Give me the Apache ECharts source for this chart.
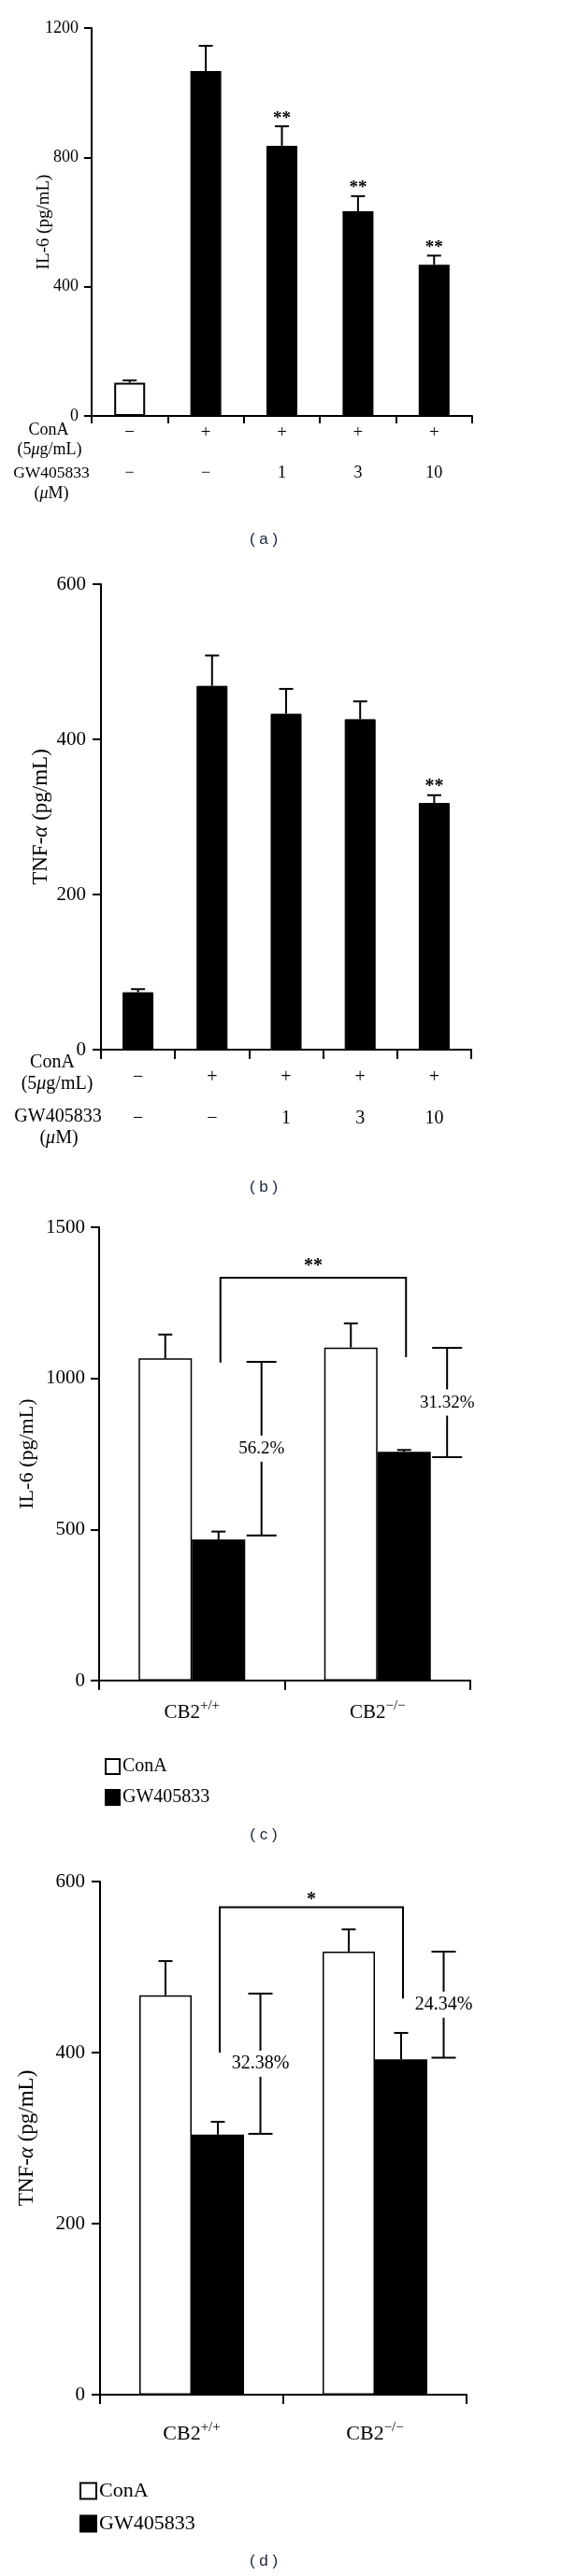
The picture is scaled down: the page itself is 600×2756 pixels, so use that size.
<!DOCTYPE html>
<html><head><meta charset="utf-8">
<script src="https://cdn.jsdelivr.net/npm/echarts@6/dist/echarts.min.js"></script>
<style>html,body{margin:0;padding:0;background:#fff}#c{width:600px;height:2756px}</style>
</head><body><div id="c"></div>
<script>
// ---------- Panel (a): IL-6 vs GW405833 dose ----------
const aConA = ['−', '+', '+', '+', '+'];
const aGW = ['−', '−', '1', '3', '10'];
const aIL6 = [103, 1067, 836, 633, 468];
const aIL6Err = [7, 78, 60, 47, 28];
const aSig = ['', '', '**', '**', '**'];
const aYTicks = [0, 400, 800, 1200];
// ---------- Panel (b): TNF-α vs GW405833 dose ----------
const bConA = ['−', '+', '+', '+', '+'];
const bGW = ['−', '−', '1', '3', '10'];
const bTNF = [74, 469, 433, 426, 318];
const bTNFErr = [4, 39, 32, 23, 10];
const bSig = ['', '', '', '', '**'];
const bYTicks = [0, 200, 400, 600];
// ---------- Panel (c): IL-6, CB2 genotypes ----------
const genotypes = ['CB2+/+', 'CB2−/−'];
const cConA = [1066, 1102];
const cConAErr = [79, 80];
const cGW = [467, 757];
const cGWErr = [26, 6];
const cBracket = [1333, 1052, 1070];   // top, left foot, right foot
const cBracketSig = '**';
const cInhibTop = [1055, 1101];
const cInhibBottom = [480, 739];
const cInhibLabel = ['56.2%', '31.32%'];
const cYTicks = [0, 500, 1000, 1500];
// ---------- Panel (d): TNF-α, CB2 genotypes ----------
const dConA = [467, 518];
const dConAErr = [40, 26];
const dGW = [304, 392];
const dGWErr = [15, 31];
const dBracket = [570, 400, 463];
const dBracketSig = '*';
const dInhibTop = [469, 518];
const dInhibBottom = [305, 394];
const dInhibLabel = ['32.38%', '24.34%'];
const dYTicks = [0, 200, 400, 600];

const SERIF = '"Liberation Serif", "Times New Roman", serif';
const SANS = '"Liberation Sans", Arial, sans-serif';

function yAxisDef(gi, ticks, name, nameGap, fs, nameFs, tickLen, margin) {
  return {
    type: 'value', gridIndex: gi, min: ticks[0], max: ticks[ticks.length - 1],
    interval: ticks[1] - ticks[0],
    splitLine: { show: false },
    axisLine: { show: true, lineStyle: { color: '#000', width: 2 } },
    axisTick: { show: true, length: tickLen, lineStyle: { color: '#000', width: 2 } },
    axisLabel: { color: '#000', fontFamily: SERIF, fontSize: fs, margin: margin, formatter: (v) => String(v) },
    name: name, nameLocation: 'middle', nameGap: nameGap, nameMoveOverlap: false,
    nameTextStyle: { color: '#000', fontFamily: SERIF, fontSize: nameFs,
      rich: { i: { fontStyle: 'italic', fontFamily: SERIF, fontSize: nameFs, color: '#000' } } }
  };
}
function xCatDef(gi, labels, margin, fs, showLine, tickLen, formatter, rich) {
  return {
    type: 'category', gridIndex: gi, position: 'bottom', data: labels.slice(),
    axisLine: { show: showLine, lineStyle: { color: '#000', width: 2 } },
    axisTick: { show: showLine, length: tickLen, lineStyle: { color: '#000', width: 2 } },
    axisLabel: { color: '#000', fontFamily: SERIF, fontSize: fs, margin: margin,
      formatter: formatter, rich: rich, interval: 0 },
    splitLine: { show: false }
  };
}

function errSeries(xi, yi, vals, errs, sig, offset, capW, starFs) {
  return {
    type: 'custom', xAxisIndex: xi, yAxisIndex: yi, silent: true, z: 5,
    data: vals.map((v, i) => [i, v, errs[i]]),
    encode: { x: 0, y: 1 },
    renderItem: function (params, api) {
      const i = api.value(0), v = api.value(1), e = api.value(2);
      const b = api.coord([i, v]), t = api.coord([i, v + e]);
      const x = b[0] + offset;
      const ch = [
        { type: 'line', shape: { x1: x, y1: b[1], x2: x, y2: t[1] }, style: { stroke: '#000', lineWidth: 2 } },
        { type: 'line', shape: { x1: x - capW / 2, y1: t[1], x2: x + capW / 2, y2: t[1] }, style: { stroke: '#000', lineWidth: 2 } }
      ];
      if (sig && sig[i]) {
        ch.push({ type: 'text', style: { text: sig[i], x: x, y: t[1] + 1, align: 'center', verticalAlign: 'bottom',
          font: 'bold ' + starFs + 'px ' + SERIF, fill: '#000' } });
      }
      return { type: 'group', children: ch };
    }
  };
}
function bracketSeries(xi, yi, br, sig, footOffset, sigFs, sigGap) {
  return {
    type: 'custom', xAxisIndex: xi, yAxisIndex: yi, silent: true, z: 6,
    data: [[0, br[0]]], encode: { x: 0, y: 1 },
    renderItem: function (params, api) {
      const l = api.coord([0, br[0]]), r = api.coord([1, br[0]]);
      const lf = api.coord([0, br[1]]), rf = api.coord([1, br[2]]);
      const x1 = l[0] + footOffset, x2 = r[0] + footOffset;
      return { type: 'group', children: [
        { type: 'polyline', shape: { points: [[x1, lf[1]], [x1, l[1]], [x2, l[1]], [x2, rf[1]]] },
          style: { stroke: '#000', lineWidth: 2, fill: null } },
        { type: 'text', style: { text: sig, x: (x1 + x2) / 2, y: l[1] - sigGap, align: 'center', verticalAlign: 'bottom',
          font: 'bold ' + sigFs + 'px ' + SERIF, fill: '#000' } }
      ] };
    }
  };
}
function inhibSeries(xi, yi, tops, bottoms, labels, capW, fs) {
  return {
    type: 'custom', xAxisIndex: xi, yAxisIndex: yi, silent: true, z: 6,
    data: tops.map((t, i) => [i, t, bottoms[i]]), encode: { x: 0, y: 1 },
    renderItem: function (params, api) {
      const i = api.value(0);
      const bw = api.size([1, 0])[0];
      const t = api.coord([i, api.value(1)]), b = api.coord([i, api.value(2)]);
      const x = t[0] + bw * 0.375;
      const mid = (t[1] + b[1]) / 2, gap = 14;
      const st = { stroke: '#000', lineWidth: 2 };
      return { type: 'group', children: [
        { type: 'line', shape: { x1: x - capW / 2, y1: t[1], x2: x + capW / 2, y2: t[1] }, style: st },
        { type: 'line', shape: { x1: x - capW / 2, y1: b[1], x2: x + capW / 2, y2: b[1] }, style: st },
        { type: 'line', shape: { x1: x, y1: t[1], x2: x, y2: mid - gap }, style: st },
        { type: 'line', shape: { x1: x, y1: mid + gap, x2: x, y2: b[1] }, style: st },
        { type: 'text', style: { text: labels[i], x: x, y: mid, align: 'center', verticalAlign: 'middle',
          font: fs + 'px ' + SERIF, fill: '#000' } }
      ] };
    }
  };
}

const genoFmt = function (v) {
  const base = v.slice(0, 3), sup = v.slice(3);
  return '{b|' + base + '}{s|' + sup + '}';
};
const genoRich = (fs) => ({
  b: { fontFamily: SERIF, fontSize: fs, color: '#000' },
  s: { fontFamily: SERIF, fontSize: 15, color: '#000', padding: [0, 0, 14, 0] }
});

const BW_AB = 33, BW_CD = 57;

function hdr(x, y, txt, fs) {
  return { type: 'text', x: x, y: y, style: { text: txt, align: 'center', verticalAlign: 'middle',
    font: fs + 'px ' + SERIF, fill: '#000',
    rich: { i: { fontStyle: 'italic', fontFamily: SERIF, fontSize: fs, fill: '#000' } } } };
}
function panelLetter(y, ch) {
  return { type: 'text', x: 282, y: y, style: { text: '( ' + ch + ' )', align: 'center', verticalAlign: 'middle',
    font: '17px ' + SANS, fill: '#1c2340' } };
}

const option = {
  animation: false,
  backgroundColor: '#fff',
  grid: [
    { left: 98, top: 30, width: 407, height: 415 },
    { left: 108, top: 625, width: 396, height: 498 },
    { left: 106, top: 1313, width: 397, height: 485 },
    { left: 107, top: 2013, width: 392, height: 549 }
  ],
  xAxis: [
    xCatDef(0, aConA, 9, 19, true, 8),
    xCatDef(0, aGW, 52, 18, false, 0),
    xCatDef(1, bConA, 20, 20, true, 10),
    xCatDef(1, bGW, 64, 20, false, 0),
    xCatDef(2, genotypes, 20, 21, true, 10, genoFmt, genoRich(21)),
    xCatDef(3, genotypes, 28, 22, true, 10, genoFmt, genoRich(22))
  ],
  yAxis: [
    yAxisDef(0, aYTicks, 'IL-6 (pg/mL)', 41, 18, 19, 8, 14),
    yAxisDef(1, bYTicks, 'TNF-{i|α} (pg/mL)', 53, 21, 23, 9, 16),
    yAxisDef(2, cYTicks, 'IL-6 (pg/mL)', 66, 21, 22, 9, 15),
    yAxisDef(3, dYTicks, 'TNF-{i|α} (pg/mL)', 67, 21, 23, 9, 16)
  ],
  legend: [
    { data: ['ConA', 'GW405833'], orient: 'vertical', left: 107, top: 1875, icon: 'rect',
      itemWidth: 15, itemHeight: 16, itemGap: 13, selectedMode: false,
      textStyle: { fontFamily: SERIF, fontSize: 20, color: '#000', padding: [0, 0, 0, -2] } },
    { data: ['ConA', 'GW405833'], orient: 'vertical', left: 80, top: 2649, icon: 'rect',
      itemWidth: 17, itemHeight: 17, itemGap: 13, selectedMode: false,
      textStyle: { fontFamily: SERIF, fontSize: 22, color: '#000', padding: [0, 0, 0, -2] } }
  ],
  series: [
    { type: 'bar', name: 'IL-6 (a)', xAxisIndex: 0, yAxisIndex: 0, data: aIL6, barWidth: BW_AB,
      itemStyle: { color: (p) => p.dataIndex === 0 ? '#fff' : '#000', borderColor: '#000', borderWidth: 2 } },
    errSeries(0, 0, aIL6, aIL6Err, aSig, 0, 15, 19),
    { type: 'bar', name: 'TNF (b)', xAxisIndex: 2, yAxisIndex: 1, data: bTNF, barWidth: BW_AB,
      itemStyle: { color: '#000', borderColor: '#000', borderWidth: 1 } },
    errSeries(2, 1, bTNF, bTNFErr, bSig, 0, 15, 20),
    { type: 'bar', name: 'ConA', xAxisIndex: 4, yAxisIndex: 2, data: cConA, barWidth: BW_CD, barGap: '0%',
      itemStyle: { color: '#fff', borderColor: '#000', borderWidth: 1.5 } },
    { type: 'bar', name: 'GW405833', xAxisIndex: 4, yAxisIndex: 2, data: cGW, barWidth: BW_CD, barGap: '0%',
      itemStyle: { color: '#000', borderColor: '#000', borderWidth: 1.5 } },
    errSeries(4, 2, cConA, cConAErr, null, -BW_CD / 2, 15, 20),
    errSeries(4, 2, cGW, cGWErr, null, BW_CD / 2, 15, 20),
    bracketSeries(4, 2, cBracket, cBracketSig, BW_CD / 2 + 2, 20, 2),
    inhibSeries(4, 2, cInhibTop, cInhibBottom, cInhibLabel, 32, 19),
    { type: 'bar', name: 'ConA', xAxisIndex: 5, yAxisIndex: 3, data: dConA, barWidth: 56, barGap: '0%',
      itemStyle: { color: '#fff', borderColor: '#000', borderWidth: 1.5 } },
    { type: 'bar', name: 'GW405833', xAxisIndex: 5, yAxisIndex: 3, data: dGW, barWidth: 56, barGap: '0%',
      itemStyle: { color: '#000', borderColor: '#000', borderWidth: 1.5 } },
    errSeries(5, 3, dConA, dConAErr, null, -28, 15, 20),
    errSeries(5, 3, dGW, dGWErr, null, 28, 15, 20),
    bracketSeries(5, 3, dBracket, dBracketSig, 28 + 2, 20, -2),
    inhibSeries(5, 3, dInhibTop, dInhibBottom, dInhibLabel, 26, 20)
  ],
  graphic: [
    hdr(52, 460, 'ConA', 18),
    hdr(53, 481, '(5{i|μ}g/mL)', 18),
    hdr(55, 506, 'GW405833', 17.5),
    hdr(55, 528, '({i|μ}M)', 18),
    hdr(56, 1137, 'ConA', 20),
    hdr(61, 1160, '(5{i|μ}g/mL)', 20),
    hdr(62, 1195, 'GW405833', 20),
    hdr(63, 1218, '({i|μ}M)', 20),
    panelLetter(577, 'a'),
    panelLetter(1270, 'b'),
    panelLetter(1963, 'c'),
    panelLetter(2740, 'd')
  ]
};
const chart = echarts.init(document.getElementById('c'), null, { renderer: 'canvas' });
chart.setOption(option);
</script>
</body></html>
